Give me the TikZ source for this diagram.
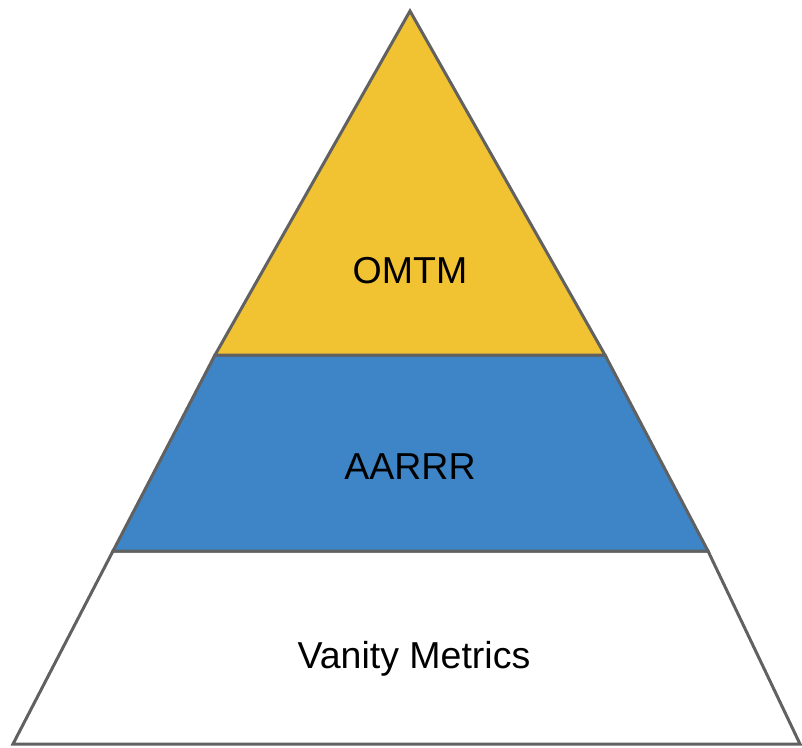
\documentclass[tikz,border=0pt]{standalone}
\usepackage{fontspec}
\setmainfont{Liberation Sans}
\definecolor{layeryellow}{HTML}{F1C232}
\definecolor{layerblue}{HTML}{3D85C6}
\definecolor{edgegray}{HTML}{616161}
\begin{document}
\begin{tikzpicture}[x=1pt,y=-1pt,
  layer/.style={draw=edgegray,line width=3pt,line join=miter},
  lbl/.style={font=\fontsize{37.5}{42}\selectfont,text=black,inner sep=0pt}]
\useasboundingbox (0,0) rectangle (802,747);
% base layer
\fill[white] (0,0) rectangle (802,747);
\draw[layer,fill=white] (113,551) -- (708,551) -- (800,744) -- (13,744) -- cycle;
% middle layer
\draw[layer,fill=layerblue] (215,355) -- (605,355) -- (708,551) -- (113,551) -- cycle;
% top layer
\draw[layer,fill=layeryellow] (410,11) -- (605,355) -- (215,355) -- cycle;
\node[lbl] (top) at (410,271) {OMTM};
\node[lbl] (mid) at (410,467) {AARRR};
\node[lbl] (base) at (414,659) {Vanity Metrics};
\end{tikzpicture}
\end{document}
